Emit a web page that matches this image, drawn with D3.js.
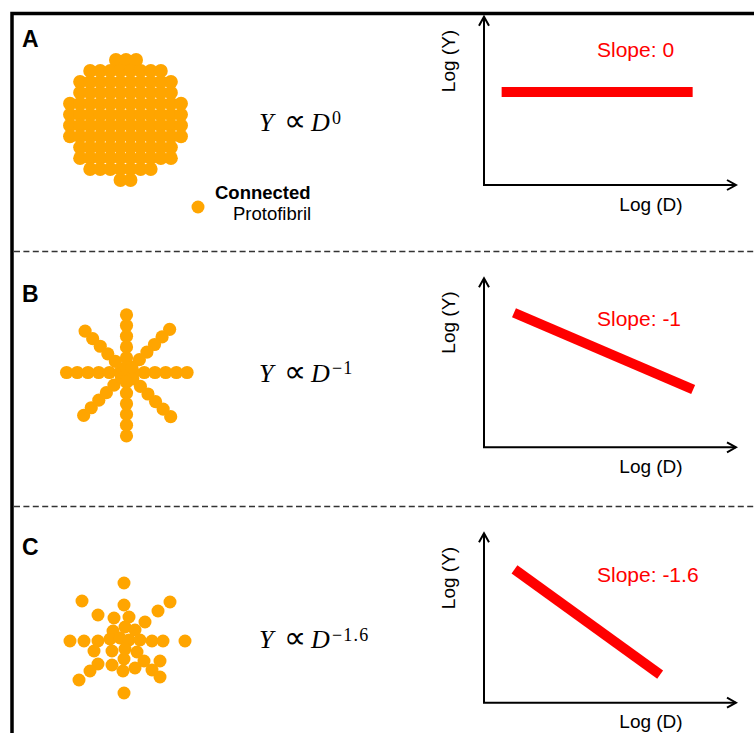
<!DOCTYPE html>
<html>
<head>
<meta charset="utf-8">
<script src="https://cdn.jsdelivr.net/npm/d3@7"></script>
<style>
  body { margin: 0; background: #fff; }
  svg { display: block; }
</style>
</head>
<body>
<div id="chart"></div>
<script>
// Panel A: compact cluster, dots in each row (top to bottom) and row shift in columns
var gridRowCounts = [3, 8, 10, 10, 12, 12, 12, 12, 10, 10, 7, 2];
var gridRowShift  = [0.05, 0, 0, 0, 0, 0, 0, 0, 0, 0, -0.5, 0];

// Panel B: star, eight arms (screen angle in degrees) and reach of each arm in dot steps
var armAngles = [0, 45, 90, 135, 180, 225, 270, 315];
var armReach  = [5.66, 5.84, 5.92, 5.66, 5.6, 5.47, 5.39, 5.7];
var armDots = 6;

// Panel C: loose cluster, offsets from the centre in dot steps
var scatterX = [-0.1, -4.3, 4.5, -0.1, 3.3, -2.7, -1.1, 0.4, 2.0, 0, -1.2, 1.0,
                -5.5, -4.1, -2.7, -1.5, -0.5, 0.4, 1.5, 2.7, 3.8, 6.0,
                -3.1, -1.3, 0, 1.2, -0.1, -2.7, -1.3, 1.9, 3.5, 1.0, -0.2, -3.5, 2.7, 3.5, -4.6, -0.1];
var scatterY = [-5.7, -3.9, -3.8, -3.5, -2.9, -2.5, -2.2, -2.3, -1.8, -1.3, -0.9, -1.0,
                0.1, 0.1, 0.1, -0.1, -0.2, 0, 0, 0.1, 0.1, 0.1,
                1.1, 1.1, 0.9, 1.2, 1.9, 2.4, 2.5, 2.1, 2.1, 2.8, 3.1, 3.1, 3.0, 3.7, 4.0, 5.3];

// log-log sketches (axes run 0..10 both ways)
var panelLetters = ["A", "B", "C"];
var exponents = ["0", "\u22121", "\u22121.6"];
var slopeLabels = ["Slope: 0", "Slope: -1", "Slope: -1.6"];
var lineStart = [[0.7, 5.53], [1.19, 7.96], [1.21, 7.87]];
var lineEnd   = [[8.28, 5.53], [8.3, 3.42], [6.99, 1.66]];

var width = 754, height = 733;
var orange = "#ffa500", red = "#ff0000";
var sans = "'Liberation Sans', Arial, sans-serif";
var serif = "'Liberation Serif', 'Times New Roman', serif";

var svg = d3.select("#chart").append("svg")
    .attr("width", width)
    .attr("height", height);

var defs = svg.append("defs");
defs.append("marker")
    .attr("id", "chevron")
    .attr("viewBox", "-12 -7 14 14")
    .attr("markerUnits", "userSpaceOnUse")
    .attr("markerWidth", 14)
    .attr("markerHeight", 14)
    .attr("refX", 0)
    .attr("refY", 0)
    .attr("orient", "auto-start-reverse")
  .append("path")
    .attr("d", "M-9,-5L0,0L-9,5")
    .attr("fill", "none")
    .attr("stroke", "#000")
    .attr("stroke-width", 2);

// frame, open to the right and bottom edges
svg.append("rect")
    .attr("x", 12).attr("y", 13.5)
    .attr("width", 900).attr("height", 900)
    .attr("fill", "none")
    .attr("stroke", "#000")
    .attr("stroke-width", 3.5);

[251.5, 506.5].forEach(function(y) {
  svg.append("line")
    .attr("x1", 14).attr("x2", width)
    .attr("y1", y).attr("y2", y)
    .attr("stroke", "#333")
    .attr("stroke-width", 1.3)
    .attr("stroke-dasharray", "6,3.4");
});

var panels = [
  {letterY: 46.5, cx: 125.5, cy: 120, mathY: 131, axisY: 185, tipY: 16.7, slopeY: 56.7, logDY: 210.7, logYc: 61},
  {letterY: 301.5, cx: 126.5, cy: 372.5, mathY: 381.7, axisY: 447.3, tipY: 278.3, slopeY: 326, logDY: 472.7, logYc: 322.5},
  {letterY: 555, cx: 125, cy: 640, mathY: 648.3, axisY: 702.7, tipY: 533.3, slopeY: 581.7, logDY: 728, logYc: 578}
];

function dots(g, pts, r) {
  g.selectAll("circle").data(pts).enter().append("circle")
    .attr("cx", function(d) { return d[0]; })
    .attr("cy", function(d) { return d[1]; })
    .attr("r", r)
    .attr("fill", orange);
}

// A: connected protofibril grid
(function() {
  var p = panels[0];
  var colX = d3.scaleLinear().domain([0, 1]).range([p.cx, p.cx + 10.1]);
  var rowY = d3.scaleLinear().domain([0, gridRowCounts.length - 1]).range([60, 180]);
  var pts = [];
  gridRowCounts.forEach(function(n, i) {
    for (var j = 0; j < n; j++) {
      pts.push([colX(j - (n - 1) / 2 + gridRowShift[i]), rowY(i)]);
    }
  });
  dots(svg.append("g"), pts, 6.9);
})();

// B: star
(function() {
  var p = panels[1];
  var step = d3.scaleLinear().domain([0, 1]).range([0, 10.7]);
  var pts = [[p.cx, p.cy]];
  armAngles.forEach(function(a, i) {
    var rad = a * Math.PI / 180;
    for (var k = 0; k < armDots; k++) {
      var r = step(armReach[i] - k);
      pts.push([p.cx + r * Math.cos(rad), p.cy + r * Math.sin(rad)]);
    }
  });
  dots(svg.append("g"), pts, 6.6);
})();

// C: loose cluster
(function() {
  var p = panels[2];
  var sx = d3.scaleLinear().domain([-6, 6]).range([p.cx - 60, p.cx + 60]);
  var sy = d3.scaleLinear().domain([-6, 6]).range([p.cy - 60, p.cy + 60]);
  dots(svg.append("g"), scatterX.map(function(x, i) { return [sx(x), sy(scatterY[i])]; }), 6.5);
})();

// legend (one label, two lines)
svg.append("circle").attr("cx", 198).attr("cy", 207).attr("r", 6.5).attr("fill", orange);
var legendText = svg.append("text")
    .attr("font-family", sans).attr("font-size", 18.5);
legendText.append("tspan").attr("x", 215).attr("y", 199)
    .attr("font-weight", "bold").text("Connected");
legendText.append("tspan").attr("x", 233).attr("y", 220)
    .text("Protofibril");

panels.forEach(function(p, i) {
  // panel letter
  svg.append("text").attr("x", 22).attr("y", p.letterY)
      .attr("font-family", sans).attr("font-size", 23).attr("font-weight", "bold")
      .text(panelLetters[i]);

  // power law
  var mt = svg.append("text").attr("y", p.mathY)
      .attr("font-family", serif).attr("font-size", 26);
  mt.append("tspan").attr("x", 259).attr("font-style", "italic").text("Y");
  mt.append("tspan").attr("x", 284).attr("font-size", 31).text("\u221D");
  mt.append("tspan").attr("x", 311).attr("font-style", "italic").text("D");
  svg.append("text").attr("x", 332).attr("y", p.mathY - 7.5)
      .attr("font-family", serif).attr("font-size", 18)
      .attr("letter-spacing", 1.2)
      .text(exponents[i]);

  // log-log sketch
  var x = d3.scaleLinear().domain([0, 10]).range([484, 736]);
  var y = d3.scaleLinear().domain([0, 10]).range([p.axisY, p.tipY]);

  svg.append("path")
      .attr("d", d3.line()([[x(0), y(10)], [x(0), y(0)], [x(10), y(0)]]))
      .attr("fill", "none")
      .attr("stroke", "#000")
      .attr("stroke-width", 2)
      .attr("marker-start", "url(#chevron)")
      .attr("marker-end", "url(#chevron)");

  svg.append("line")
      .attr("x1", x(lineStart[i][0])).attr("y1", y(lineStart[i][1]))
      .attr("x2", x(lineEnd[i][0])).attr("y2", y(lineEnd[i][1]))
      .attr("stroke", red)
      .attr("stroke-width", 10);

  svg.append("text").attr("x", 597).attr("y", p.slopeY)
      .attr("font-family", sans).attr("font-size", 21).attr("fill", red)
      .text(slopeLabels[i]);

  svg.append("text").attr("x", 651).attr("y", p.logDY)
      .attr("text-anchor", "middle")
      .attr("font-family", sans).attr("font-size", 19)
      .text("Log (D)");

  svg.append("text")
      .attr("transform", "translate(455," + p.logYc + ") rotate(-90)")
      .attr("text-anchor", "middle")
      .attr("font-family", sans).attr("font-size", 19)
      .text("Log (Y)");
});
</script>
</body>
</html>
